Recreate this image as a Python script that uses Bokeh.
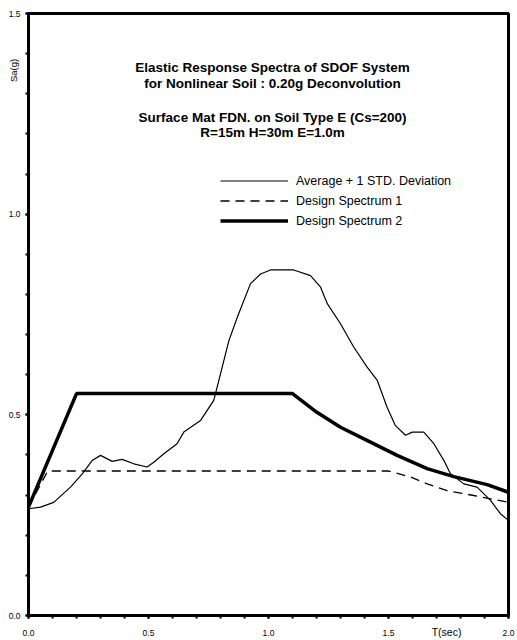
from bokeh.plotting import figure
from bokeh.models import (Range1d, FixedTicker, Label, Legend, LegendItem,
                          PrintfTickFormatter, LinearAxis)
from bokeh.embed import file_html
from bokeh.resources import INLINE

# ---- data ----
avg_T = [0.0, 0.05, 0.105, 0.175, 0.224, 0.265, 0.30, 0.349, 0.39, 0.439, 0.494, 0.522,
         0.564, 0.619, 0.647, 0.717, 0.772, 0.80, 0.835, 0.87, 0.925, 0.967, 1.008, 1.105,
         1.175, 1.217, 1.245, 1.30, 1.355, 1.411, 1.453, 1.494, 1.529, 1.571, 1.599, 1.647,
         1.689, 1.731, 1.758, 1.814, 1.869, 1.925, 1.967, 2.0]
avg_Sa = [0.266, 0.27, 0.282, 0.32, 0.353, 0.386, 0.399, 0.384, 0.389, 0.378, 0.37, 0.382,
          0.403, 0.428, 0.457, 0.486, 0.536, 0.602, 0.685, 0.743, 0.827, 0.851, 0.861, 0.861,
          0.847, 0.818, 0.777, 0.727, 0.669, 0.619, 0.586, 0.519, 0.473, 0.449, 0.457, 0.457,
          0.428, 0.386, 0.353, 0.328, 0.32, 0.287, 0.253, 0.237]

ds1_T = [0.0, 0.08, 1.5, 1.592, 1.661, 1.744, 1.855, 2.0]
ds1_Sa = [0.27, 0.36, 0.36, 0.345, 0.328, 0.311, 0.299, 0.282]

ds2_T = [0.0, 0.2, 1.1, 1.2, 1.3, 1.425, 1.536, 1.661, 1.772, 1.911, 2.0]
ds2_Sa = [0.27, 0.553, 0.553, 0.507, 0.469, 0.432, 0.399, 0.366, 0.346, 0.326, 0.307]

x_ticks = [0.0, 0.5, 1.0, 1.5, 2.0]
y_ticks = [0.0, 0.5, 1.0, 1.5]
x_minor = [i / 10 for i in range(0, 21)]
y_minor = [i / 10 for i in range(0, 16)]

title_lines = ["Elastic Response Spectra of SDOF System",
               "for Nonlinear Soil : 0.20g Deconvolution",
               "Surface Mat FDN. on Soil Type E (Cs=200)",
               "R=15m H=30m E=1.0m"]
series_names = ["Average + 1 STD. Deviation", "Design Spectrum 1", "Design Spectrum 2"]
x_title = "T(sec)"
x_title_at = 1.742
y_title = "Sa(g)"
y_title_at = 1.358

FONT = "Liberation Sans"

p = figure(width=517, height=640, output_backend="svg", toolbar_location=None,
           x_range=Range1d(0, 2.0), y_range=Range1d(0, 1.5),
           min_border_left=28, min_border_right=9, min_border_top=13, min_border_bottom=25)
p.grid.visible = False
p.outline_line_color = "black"
p.outline_line_width = 3
p.background_fill_color = "white"
p.border_fill_color = "white"

def style(ax, ticks, minor, size):
    ax.ticker = FixedTicker(ticks=ticks, minor_ticks=minor)
    ax.formatter = PrintfTickFormatter(format="%.1f")
    ax.axis_line_width = 3
    ax.axis_line_color = "black"
    ax.major_tick_line_width = 2
    ax.minor_tick_line_width = 2
    ax.major_tick_in = 0
    ax.minor_tick_in = 0
    ax.major_tick_out = 3
    ax.minor_tick_out = 3
    ax.major_label_text_font = FONT
    ax.major_label_text_font_size = size
    ax.major_label_text_color = "black"

style(p.xaxis[0], x_ticks, x_minor, "8.5px")
p.xaxis[0].major_label_standoff = 11

style(p.yaxis[0], y_ticks, y_minor, "8.5px")
p.yaxis[0].major_label_standoff = 5
p.yaxis[0].major_label_orientation = "horizontal"

def caption_axis(at, text, orientation, standoff, size):
    return LinearAxis(ticker=FixedTicker(ticks=[at]),
                      major_label_overrides={at: text},
                      major_label_orientation=orientation, axis_line_color=None,
                      major_tick_out=0, major_tick_in=0, minor_tick_out=0, minor_tick_in=0,
                      major_label_standoff=standoff, major_label_text_font=FONT,
                      major_label_text_font_size=size, major_label_text_color="black")

# extra axes carrying only the captions, pulled onto the tick-label line
p.add_layout(caption_axis(y_title_at, y_title, "vertical", -14, "9.5px"), "left")
p.add_layout(caption_axis(x_title_at, x_title, "horizontal", -13, "10.5px"), "below")

r_avg = p.line(avg_T, avg_Sa, line_color="black", line_width=1.2)
r_ds1 = p.line(ds1_T, ds1_Sa, line_color="black", line_width=1.3, line_dash="9 6")
r_ds2 = p.line(ds2_T, ds2_Sa, line_color="black", line_width=3.5)

legend = Legend(items=[LegendItem(label=series_names[0], renderers=[r_avg]),
                       LegendItem(label=series_names[1], renderers=[r_ds1]),
                       LegendItem(label=series_names[2], renderers=[r_ds2])],
                location=(192, 386), glyph_width=68, glyph_height=17, spacing=3,
                padding=0, margin=0, label_standoff=8, border_line_color=None,
                background_fill_alpha=0, label_text_font=FONT,
                label_text_font_size="12.5px", label_text_color="black")
p.add_layout(legend)

title_y = [1.366, 1.326, 1.241, 1.204]
for txt, ty in zip(title_lines, title_y):
    p.add_layout(Label(x=1.017, y=ty, text=txt, text_align="center", text_baseline="middle",
                       text_font=FONT, text_font_style="bold", text_font_size="13.5px",
                       text_color="black"))

open("out.html", "w").write(file_html(p, INLINE))
